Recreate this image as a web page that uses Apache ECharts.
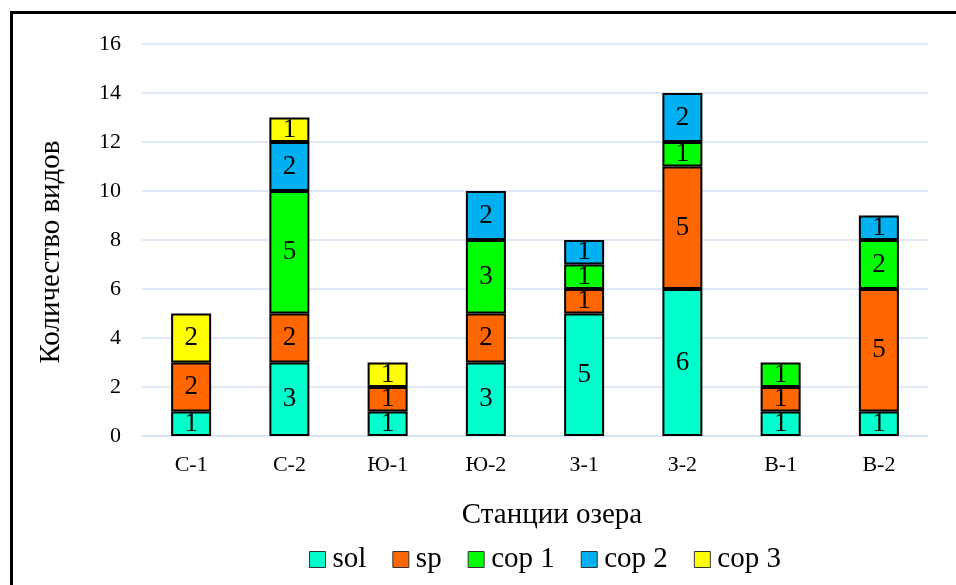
<!DOCTYPE html>
<html>
<head>
<meta charset="utf-8">
<script src="https://cdn.jsdelivr.net/npm/echarts@6/dist/echarts.min.js"></script>
<style>
  html, body { margin: 0; padding: 0; background: #fff; }
  #chart { width: 956px; height: 585px; }
</style>
</head>
<body>
<div id="chart"></div>
<script>
const stations = ['С-1', 'С-2', 'Ю-1', 'Ю-2', 'З-1', 'З-2', 'В-1', 'В-2']
const solData = [1, 3, 1, 3, 5, 6, 1, 1]
const spData = [2, 2, 1, 2, 1, 5, 1, 5]
const cop1Data = [0, 5, 0, 3, 1, 1, 1, 2]
const cop2Data = [0, 2, 0, 2, 1, 2, 0, 1]
const cop3Data = [2, 1, 1, 0, 0, 0, 0, 0]
const seriesNames = ['sol', 'sp', 'cop 1', 'cop 2', 'cop 3']
const seriesColors = ['#00FFCC', '#FF6600', '#00FF00', '#00B0F0', '#FFFF00']

const font = '"Liberation Serif", "Times New Roman", serif'
const mChart = echarts.init(document.getElementById('chart'))

const makeSeries = (name, values, color) => ({
    name,
    type: 'bar',
    stack: 'total',
    barWidth: 40,
    // нули не рисуем, чтобы не было пустых рамок
    data: values.map(v => (v === 0 ? null : v)),
    itemStyle: {
        color,
        borderColor: '#000',
        borderWidth: 2
    },
    label: {
        show: true,
        position: 'inside',
        color: '#000',
        fontFamily: font,
        fontSize: 27
    }
})

const allData = [solData, spData, cop1Data, cop2Data, cop3Data]

const option = {
    animation: false,
    backgroundColor: '#fff',
    graphic: [{
        type: 'rect',
        left: 9,
        top: 10,
        shape: { width: 960, height: 600 },
        style: { fill: 'none', stroke: '#000', lineWidth: 3 },
        z: 100
    }],
    grid: {
        left: 142,
        right: 28,
        top: 44,
        bottom: 149
    },
    legend: {
        bottom: 6,
        left: 304,
        itemWidth: 16,
        itemHeight: 16,
        itemGap: 26,
        icon: 'rect',
        itemStyle: { borderColor: '#333', borderWidth: 1 },
        textStyle: { fontFamily: font, fontSize: 29, color: '#000', padding: [0, 0, 0, 2] },
        data: seriesNames
    },
    xAxis: {
        type: 'category',
        data: stations,
        name: 'Станции озера',
        nameLocation: 'middle',
        nameGap: 65,
        nameTextStyle: { fontFamily: font, fontSize: 29, color: '#000', padding: [0, 0, 0, 34] },
        axisLine: { show: true, lineStyle: { color: '#D9E2F3', width: 1.5 } },
        axisTick: { show: false },
        axisLabel: { fontFamily: font, fontSize: 22, color: '#000', margin: 18 }
    },
    yAxis: {
        type: 'value',
        min: 0,
        max: 16,
        interval: 2,
        name: 'Количество видов',
        nameLocation: 'middle',
        nameGap: 76,
        nameTextStyle: { fontFamily: font, fontSize: 29, color: '#000', padding: [0, 24, 0, 0] },
        axisLine: { show: false },
        axisTick: { show: false },
        splitLine: { lineStyle: { color: '#D9E2F3', width: 1.5 } },
        axisLabel: { fontFamily: font, fontSize: 22, color: '#000', margin: 21 }
    },
    series: seriesNames.map((n, i) => makeSeries(n, allData[i], seriesColors[i]))
}
mChart.setOption(option)
</script>
</body>
</html>
